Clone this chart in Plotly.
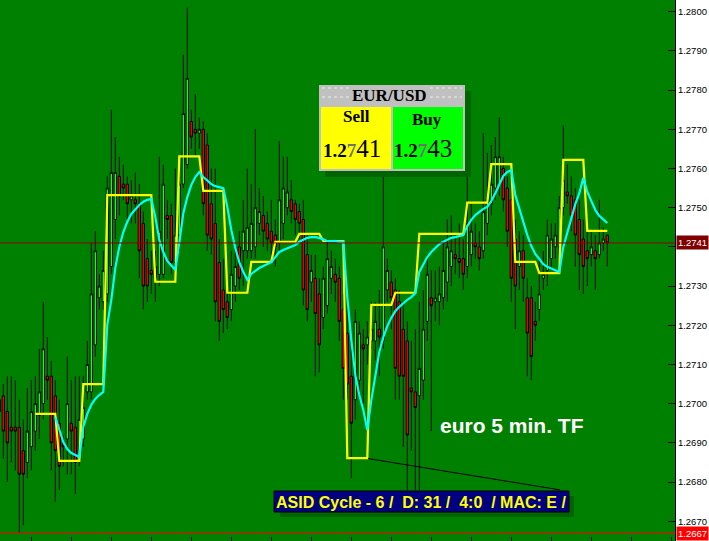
import plotly.graph_objects as go

# ---------------- data ----------------
first_candle = -1
opens = [1.2701, 1.2702, 1.2698, 1.2694, 1.2694, 1.2694, 1.2688, 1.2685, 1.2689, 1.2693,
         1.2697, 1.2700, 1.2707, 1.2707, 1.2702, 1.2695, 1.2690, 1.2691, 1.2695, 1.2694,
         1.2687, 1.2691, 1.2703, 1.2703, 1.2715, 1.2727, 1.2726, 1.2728, 1.2735, 1.2747,
         1.2758, 1.2756, 1.2756, 1.2752, 1.2752, 1.2751, 1.2746, 1.2737, 1.2734, 1.2732,
         1.2733, 1.2733, 1.2748, 1.2748, 1.2736, 1.2743, 1.2756, 1.2761, 1.2772, 1.2770,
         1.2769, 1.2770, 1.2766, 1.2751, 1.2746, 1.2736, 1.2729, 1.2726, 1.2724, 1.2730,
         1.2740, 1.2739, 1.2739, 1.2739, 1.2740, 1.2746, 1.2748, 1.2746, 1.2744, 1.2743,
         1.2741, 1.2746, 1.2750, 1.2752, 1.2751, 1.2749, 1.2747, 1.2738, 1.2731, 1.2732,
         1.2728, 1.2722, 1.2725, 1.2732, 1.2733, 1.2732, 1.2724, 1.2718, 1.2707, 1.2701,
         1.2706, 1.2715, 1.2715, 1.2716, 1.2716, 1.2719, 1.2716, 1.2729, 1.2731, 1.2729,
         1.2726, 1.2719, 1.2716, 1.2704, 1.2703, 1.2702, 1.2706, 1.2721, 1.2727, 1.2726,
         1.2726, 1.2727, 1.2731, 1.2735, 1.2738, 1.2737, 1.2737, 1.2735, 1.2738, 1.2741,
         1.2740, 1.2739, 1.2746, 1.2751, 1.2755, 1.2756, 1.2760, 1.2755, 1.2752, 1.2742,
         1.2735, 1.2739, 1.2727, 1.2727, 1.2721, 1.2724, 1.2732, 1.2734, 1.2737, 1.2740,
         1.2740, 1.2750, 1.2754, 1.2753, 1.2752, 1.2747, 1.2742, 1.2739, 1.2738, 1.2739,
         1.2738, 1.2741, 1.2743]
highs = [1.2705, 1.2705, 1.2707, 1.2707, 1.2706, 1.2701, 1.2696, 1.2704, 1.2706, 1.2707,
         1.2714, 1.2726, 1.2717, 1.2711, 1.2706, 1.2701, 1.2692, 1.2712, 1.2706, 1.2707,
         1.2707, 1.2707, 1.2716, 1.2741, 1.2744, 1.2733, 1.2739, 1.2758, 1.2775, 1.2768,
         1.2763, 1.2761, 1.2758, 1.2757, 1.2759, 1.2756, 1.2749, 1.2742, 1.2739, 1.2739,
         1.2763, 1.2761, 1.2752, 1.2751, 1.2760, 1.2760, 1.2789, 1.2801, 1.2775, 1.2779,
         1.2773, 1.2772, 1.2769, 1.2760, 1.2760, 1.2742, 1.2737, 1.2732, 1.2739, 1.2740,
         1.2744, 1.2752, 1.2760, 1.2756, 1.2770, 1.2755, 1.2753, 1.2749, 1.2752, 1.2747,
         1.2767, 1.2763, 1.2763, 1.2757, 1.2752, 1.2751, 1.2752, 1.2743, 1.2738, 1.2738,
         1.2732, 1.2735, 1.2742, 1.2739, 1.2737, 1.2735, 1.2728, 1.2726, 1.2716, 1.2724,
         1.2721, 1.2719, 1.2721, 1.2726, 1.2726, 1.2729, 1.2759, 1.2737, 1.2734, 1.2732,
         1.2729, 1.2726, 1.2721, 1.2716, 1.2719, 1.2726, 1.2729, 1.2738, 1.2734, 1.2734,
         1.2735, 1.2742, 1.2747, 1.2748, 1.2743, 1.2746, 1.2742, 1.2763, 1.2751, 1.2746,
         1.2744, 1.2769, 1.2764, 1.2766, 1.2768, 1.2773, 1.2763, 1.2758, 1.2756, 1.2747,
         1.2744, 1.2743, 1.2732, 1.2730, 1.2726, 1.2737, 1.2739, 1.2747, 1.2746, 1.2746,
         1.2753, 1.2771, 1.2761, 1.2758, 1.2755, 1.2752, 1.2747, 1.2746, 1.2744, 1.2743,
         1.2752, 1.2745, 1.2743]
lows = [1.2688, 1.2686, 1.2680, 1.2685, 1.2683, 1.2667, 1.2669, 1.2681, 1.2683, 1.2688,
        1.2691, 1.2696, 1.2701, 1.2683, 1.2675, 1.2678, 1.2684, 1.2682, 1.2682, 1.2677,
        1.2684, 1.2689, 1.2701, 1.2701, 1.2712, 1.2724, 1.2724, 1.2726, 1.2733, 1.2742,
        1.2748, 1.2752, 1.2747, 1.2746, 1.2746, 1.2732, 1.2724, 1.2726, 1.2728, 1.2726,
        1.2730, 1.2732, 1.2742, 1.2733, 1.2733, 1.2739, 1.2755, 1.2760, 1.2765, 1.2763,
        1.2765, 1.2748, 1.2739, 1.2738, 1.2721, 1.2716, 1.2718, 1.2719, 1.2721, 1.2726,
        1.2729, 1.2730, 1.2737, 1.2737, 1.2737, 1.2743, 1.2740, 1.2739, 1.2737, 1.2735,
        1.2739, 1.2742, 1.2748, 1.2746, 1.2743, 1.2742, 1.2725, 1.2721, 1.2726, 1.2707,
        1.2708, 1.2719, 1.2723, 1.2728, 1.2726, 1.2716, 1.2701, 1.2701, 1.2681, 1.2696,
        1.2703, 1.2700, 1.2710, 1.2714, 1.2711, 1.2707, 1.2714, 1.2726, 1.2719, 1.2701,
        1.2701, 1.2689, 1.2678, 1.2688, 1.2678, 1.2678, 1.2701, 1.2716, 1.2693, 1.2721,
        1.2720, 1.2724, 1.2726, 1.2730, 1.2733, 1.2732, 1.2729, 1.2732, 1.2735, 1.2737,
        1.2734, 1.2737, 1.2743, 1.2748, 1.2752, 1.2753, 1.2749, 1.2740, 1.2726, 1.2719,
        1.2729, 1.2726, 1.2707, 1.2706, 1.2716, 1.2721, 1.2729, 1.2730, 1.2734, 1.2737,
        1.2738, 1.2748, 1.2751, 1.2744, 1.2735, 1.2729, 1.2728, 1.2730, 1.2735, 1.2729,
        1.2737, 1.2739, 1.2735]
closes = [1.2698, 1.2693, 1.2690, 1.2693, 1.2693, 1.2682, 1.2682, 1.2693, 1.2698, 1.2700,
          1.2703, 1.2714, 1.2706, 1.2690, 1.2688, 1.2684, 1.2689, 1.2700, 1.2693, 1.2685,
          1.2696, 1.2699, 1.2710, 1.2728, 1.2739, 1.2730, 1.2734, 1.2755, 1.2759, 1.2759,
          1.2753, 1.2755, 1.2751, 1.2753, 1.2751, 1.2739, 1.2730, 1.2730, 1.2733, 1.2735,
          1.2744, 1.2756, 1.2747, 1.2736, 1.2743, 1.2756, 1.2774, 1.2783, 1.2768, 1.2769,
          1.2770, 1.2751, 1.2743, 1.2742, 1.2726, 1.2721, 1.2724, 1.2722, 1.2733, 1.2735,
          1.2732, 1.2744, 1.2745, 1.2746, 1.2750, 1.2749, 1.2744, 1.2742, 1.2741, 1.2740,
          1.2752, 1.2755, 1.2754, 1.2749, 1.2747, 1.2746, 1.2729, 1.2724, 1.2734, 1.2723,
          1.2715, 1.2732, 1.2737, 1.2735, 1.2731, 1.2721, 1.2709, 1.2705, 1.2695, 1.2721,
          1.2718, 1.2714, 1.2717, 1.2719, 1.2721, 1.2717, 1.2740, 1.2734, 1.2727, 1.2709,
          1.2707, 1.2707, 1.2692, 1.2703, 1.2699, 1.2709, 1.2719, 1.2733, 1.2725, 1.2727,
          1.2728, 1.2734, 1.2740, 1.2739, 1.2737, 1.2736, 1.2733, 1.2746, 1.2744, 1.2740,
          1.2737, 1.2749, 1.2752, 1.2756, 1.2763, 1.2763, 1.2752, 1.2744, 1.2732, 1.2730,
          1.2739, 1.2732, 1.2718, 1.2712, 1.2720, 1.2728, 1.2733, 1.2743, 1.2742, 1.2743,
          1.2750, 1.2757, 1.2753, 1.2748, 1.2743, 1.2738, 1.2735, 1.2737, 1.2740, 1.2737,
          1.2741, 1.2742, 1.2741]

# yellow step indicator (one value per candle from candle 8)
yellow_start = 8
yellow = [1.26974, 1.26974, 1.26974, 1.26974, 1.26974, 1.26974,
          1.26854, 1.26854, 1.26854, 1.26854, 1.26854, 1.26854,
          1.27050, 1.27050, 1.27050, 1.27050, 1.27050, 1.27050,
          1.27532, 1.27532, 1.27532, 1.27532, 1.27532, 1.27532,
          1.27532, 1.27532, 1.27532, 1.27532, 1.27532, 1.27532,
          1.27311, 1.27311, 1.27311, 1.27311, 1.27311, 1.27311,
          1.27631, 1.27631, 1.27631, 1.27631, 1.27631, 1.27631,
          1.27543, 1.27543, 1.27543, 1.27543, 1.27543, 1.27543,
          1.27283, 1.27283, 1.27283, 1.27283, 1.27283, 1.27283,
          1.27362, 1.27362, 1.27362, 1.27362, 1.27362, 1.27362,
          1.27413, 1.27413, 1.27413, 1.27413, 1.27413, 1.27413,
          1.27433, 1.27433, 1.27433, 1.27433, 1.27433, 1.27433,
          1.27415, 1.27415, 1.27415, 1.27415, 1.27415, 1.27415,
          1.26861, 1.26861, 1.26861, 1.26861, 1.26861, 1.26861,
          1.27252, 1.27252, 1.27252, 1.27252, 1.27252, 1.27252,
          1.27283, 1.27283, 1.27283, 1.27283, 1.27283, 1.27283,
          1.27433, 1.27433, 1.27433, 1.27433, 1.27433, 1.27433,
          1.27433, 1.27433, 1.27433, 1.27433, 1.27433, 1.27433,
          1.27513, 1.27513, 1.27513, 1.27513, 1.27513, 1.27513,
          1.27611, 1.27611, 1.27611, 1.27611, 1.27611, 1.27611,
          1.27362, 1.27362, 1.27362, 1.27362, 1.27362, 1.27362,
          1.27333, 1.27333, 1.27333, 1.27333, 1.27333, 1.27333,
          1.27622, 1.27622, 1.27622, 1.27622, 1.27622, 1.27622,
          1.27441, 1.27441, 1.27441, 1.27441, 1.27441, 1.27441]

# cyan smoothed indicator (one value per candle from candle 13)
cyan_start = 13
cyan = [1.26966, 1.26933, 1.26902, 1.26884, 1.26874, 1.26869, 1.26864,
        1.26941, 1.26974, 1.26997, 1.27012, 1.27022, 1.27030,
        1.27201, 1.27265, 1.27346, 1.27400, 1.27438, 1.27464, 1.27484,
        1.27497, 1.27507, 1.27515, 1.27520, 1.27522,
        1.27476, 1.27418, 1.27387, 1.27364, 1.27351, 1.27341,
        1.27410, 1.27486, 1.27527, 1.27558, 1.27578, 1.27591,
        1.27578, 1.27568, 1.27560, 1.27555, 1.27553, 1.27550,
        1.27502, 1.27443, 1.27397, 1.27361, 1.27336, 1.27316,
        1.27331, 1.27339, 1.27346, 1.27351, 1.27356, 1.27361,
        1.27374, 1.27387, 1.27392, 1.27397, 1.27402, 1.27405,
        1.27413, 1.27418, 1.27423, 1.27425, 1.27425, 1.27423,
        1.27418, 1.27415, 1.27415, 1.27415, 1.27413, 1.27413,
        1.27272, 1.27162, 1.27073, 1.27022, 1.26984, 1.26933,
        1.27009, 1.27068, 1.27132, 1.27170, 1.27198, 1.27219,
        1.27236, 1.27247, 1.27257, 1.27265, 1.27272, 1.27282,
        1.27336, 1.27356, 1.27374, 1.27387, 1.27397, 1.27407,
        1.27413, 1.27418, 1.27423, 1.27425, 1.27428, 1.27430,
        1.27453, 1.27469, 1.27481, 1.27489, 1.27497, 1.27502,
        1.27517, 1.27537, 1.27560, 1.27581, 1.27591, 1.27596,
        1.27532, 1.27497, 1.27461, 1.27430, 1.27402, 1.27382,
        1.27369, 1.27356, 1.27349, 1.27344, 1.27341, 1.27336,
        1.27400, 1.27438, 1.27474, 1.27509, 1.27537, 1.27576,
        1.27540, 1.27515, 1.27494, 1.27479, 1.27469, 1.27461]

bid = 1.2741
ask = 1.2743
pair = "EUR/USD"
trend_x = [91.2, 139.2]
trend_y = [1.2686, 1.2678]
ytick_vals = [1.2670, 1.2680, 1.2690, 1.2700, 1.2710, 1.2720, 1.2730,
              1.2740, 1.2750, 1.2760, 1.2770, 1.2780, 1.2790, 1.2800]
ytick_text = ["1.2670", "1.2680", "1.2690", "1.2700", "1.2710", "1.2720", "1.2730",
              "1.2740", "1.2750", "1.2760", "1.2770", "1.2780", "1.2790", "1.2800"]
xtick_vals = list(range(7, 168, 10))
caption = "euro 5 min. TF"
cycle_text = "ASID Cycle - 6 /&nbsp; D: 31 /&nbsp; 4:0&nbsp; / MAC: E /"

# ---------------- figure ----------------
W, H = 709, 541
PLOT_W = 675
xs = list(range(first_candle, first_candle + len(opens)))
low_price = min(lows)
# the tick label hidden under the bid-price tag (as in the terminal display)
shown_ticktext = ["" if abs(v - bid) < 0.0003 else t for v, t in zip(ytick_vals, ytick_text)]


def px(x):
    return x / PLOT_W


def py(y):
    return 1 - y / H


fig = go.Figure()
fig.add_trace(go.Candlestick(
    x=xs, open=opens, high=highs, low=lows, close=closes,
    increasing=dict(line=dict(color="black", width=0.9), fillcolor="#33EE33"),
    decreasing=dict(line=dict(color="black", width=0.9), fillcolor="#EE0000"),
    whiskerwidth=0, hoverinfo="skip", showlegend=False))
fig.add_trace(go.Scatter(
    x=list(range(yellow_start, yellow_start + len(yellow))), y=yellow,
    mode="lines", line=dict(color="#FFFF00", width=2.2), hoverinfo="skip", showlegend=False))
fig.add_trace(go.Scatter(
    x=list(range(cyan_start, cyan_start + len(cyan))), y=cyan,
    mode="lines", line=dict(color="#00FFFF", width=2.2), hoverinfo="skip", showlegend=False))
fig.add_trace(go.Scatter(
    x=trend_x, y=trend_y, mode="lines", line=dict(color="black", width=1),
    hoverinfo="skip", showlegend=False))

shapes = [
    dict(type="line", xref="paper", x0=0, x1=1, yref="y", y0=bid, y1=bid,
         line=dict(color="#8B0000", width=1), layer="above"),
    dict(type="line", xref="paper", x0=0, x1=1, yref="y", y0=low_price, y1=low_price,
         line=dict(color="#FF0000", width=1), layer="above"),
    # price box shadow + panel
    dict(type="rect", xref="paper", yref="paper", x0=px(325), x1=px(471), y0=py(177), y1=py(91),
         fillcolor="#006400", line=dict(width=0), layer="above"),
    dict(type="rect", xref="paper", yref="paper", x0=px(319), x1=px(465), y0=py(171), y1=py(85),
         fillcolor="#C0C0C0", line=dict(width=0), layer="above"),
    dict(type="rect", xref="paper", yref="paper", x0=px(321), x1=px(391), y0=py(169), y1=py(107),
         fillcolor="#FFFF00", line=dict(width=0), layer="above"),
    dict(type="rect", xref="paper", yref="paper", x0=px(393), x1=px(463), y0=py(169), y1=py(107),
         fillcolor="#00FF00", line=dict(width=0), layer="above"),
    # ASID box shadow + box
    dict(type="rect", xref="paper", yref="paper", x0=px(280), x1=px(574), y0=py(517), y1=py(496),
         fillcolor="#006400", line=dict(width=0), layer="above"),
    dict(type="rect", xref="paper", yref="paper", x0=px(274), x1=px(569), y0=py(512), y1=py(491),
         fillcolor="#000080", line=dict(color="black", width=1), layer="above"),
]
for yy in (88, 97):
    for a, b in ((322, 350), (430, 462)):
        shapes.append(dict(type="line", xref="paper", yref="paper", x0=px(a), x1=px(b),
                           y0=py(yy), y1=py(yy), line=dict(color="#EEEEEE", width=1, dash="dot"),
                           layer="above"))

serif = "Liberation Serif, Times New Roman, serif"
sans = "Liberation Sans, Arial, sans-serif"


def price_html(p):
    s = f"{p:.4f}"
    return f"<b>{s[:3]}<span style='color:#707070'>{s[3]}</span></b><span style='font-size:25px'>{s[4:]}</span>"


def note(xp, yp, text, font, xanchor="center"):
    return dict(x=px(xp), y=py(yp), xref="paper", yref="paper", text=text,
                xanchor=xanchor, yanchor="middle", showarrow=False, font=font)


annotations = [
    dict(x=1, xref="paper", xanchor="left", xshift=1, y=bid, yref="y", yanchor="middle",
         text=f"{bid:.4f}", showarrow=False, bgcolor="#800000",
         font=dict(color="white", size=9.5, family=sans), borderpad=1),
    dict(x=1, xref="paper", xanchor="left", xshift=1, y=low_price, yref="y", yanchor="middle",
         text=f"{low_price:.4f}", showarrow=False, bgcolor="#FF0000",
         font=dict(color="white", size=9.5, family=sans), borderpad=1),
    note(390, 95, f"<b>{pair}</b>", dict(family=serif, size=17, color="black")),
    note(356, 117, "<b>Sell</b>", dict(family=serif, size=17, color="black")),
    note(427, 119, "<b>Buy</b>", dict(family=serif, size=17, color="black")),
    note(321, 148, price_html(bid), dict(family=serif, size=19, color="black"), "left"),
    note(392, 148, price_html(ask), dict(family=serif, size=19, color="black"), "left"),
    note(512, 425, f"<b>{caption}</b>", dict(family=sans, size=21, color="white")),
    note(421, 502, f"<b>{cycle_text}</b>", dict(family=sans, size=16, color="#FFFF00")),
]

fig.update_layout(
    width=W, height=H, margin=dict(l=0, r=W - PLOT_W, t=0, b=0, pad=0),
    plot_bgcolor="#008000", paper_bgcolor="white", boxgap=0.15,
    shapes=shapes, annotations=annotations, showlegend=False,
    xaxis=dict(range=[-0.825, 167.925], showgrid=False, zeroline=False,
               ticks="inside", ticklen=4, tickcolor="black", tickvals=xtick_vals,
               showticklabels=False, rangeslider=dict(visible=False), showline=False),
    yaxis=dict(side="right", range=[1.266497, 1.280298], tickvals=ytick_vals,
               ticktext=shown_ticktext, ticks="inside", ticklen=7, tickcolor="black",
               showline=True, linecolor="black", linewidth=1, showgrid=False, zeroline=False,
               tickfont=dict(family=sans, size=9.5, color="black")),
)

fig.write_html("out.html", config={"displayModeBar": False},
               post_script="document.body.style.margin='0px';")
